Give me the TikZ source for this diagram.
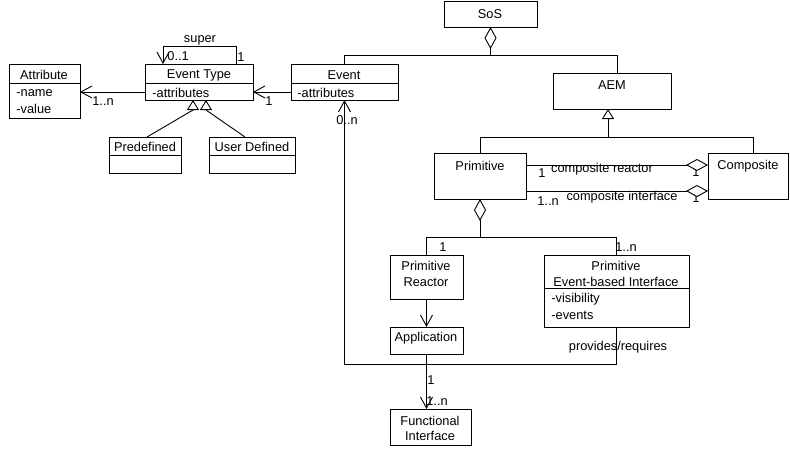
\documentclass[tikz,border=0pt]{standalone}
\usepackage{fontspec}
\setmainfont{Liberation Sans}
\usetikzlibrary{arrows.meta,calc}

% class box: name, left, top, right, bottom (pixel-like units, y downwards)
\newcommand\classbox[5]{\node[box, minimum width={#4-#2}, minimum height={#5-#3}] (#1) at (#2,#3) {};}

\begin{document}
\begin{tikzpicture}[x=1pt, y=-1pt, line width=0.9pt,
  box/.style={draw, line width=0.9pt, inner sep=0pt, outer sep=0pt, anchor=north west},
  lbl/.style={font=\fontsize{12.8}{15}\selectfont, inner sep=0pt},
  openarrow/.style={-{Straight Barb[length=11pt,width=12pt,line width=0.9pt]}},
  gen/.style={-{Triangle[open,length=10pt,width=12pt,fill=white,line width=0.9pt]}},
  agg/.style={{Diamond[open,length=22pt,width=12pt,fill=white,line width=0.9pt]}-}]
\useasboundingbox (0,0) rectangle (790,448);

% boxes
\classbox{sos}{444}{1}{537}{27}
\classbox{ev}{291}{64}{398}{100}
\classbox{et}{145}{64}{253}{100}
\classbox{attr}{9}{64}{80}{118}
\classbox{pd}{109}{137}{181}{173}
\classbox{ud}{209}{137}{295}{173}
\classbox{aem}{553}{73}{671}{109}
\classbox{prim}{434}{153}{526}{199}
\classbox{comp}{708}{153}{788}{199}
\classbox{pr}{390}{255}{463}{299}
\classbox{app}{390}{327}{463}{354}
\classbox{pei}{544}{255}{689}{327}
\classbox{fi}{390}{409}{471}{445}

% compartment dividers
\draw (ev.west |- 0,83) -- (ev.east |- 0,83);
\draw (et.west |- 0,83) -- (et.east |- 0,83);
\draw (attr.west |- 0,83) -- (attr.east |- 0,83);
\draw (pd.west |- 0,155) -- (pd.east |- 0,155);
\draw (ud.west |- 0,155) -- (ud.east |- 0,155);
\draw (pei.west |- 0,288) -- (pei.east |- 0,288);

% box texts
\node[lbl] (tsos) at (490,14) {SoS};
\node[lbl] (tev) at (344,75) {Event};
\node[lbl,anchor=west] (tevattr) at (297,93) {-attributes};
\node[lbl] (tet) at (199,75) {Event Type};
\node[lbl,anchor=west] (tetattr) at (152,93) {-attributes};
\node[lbl] (tattr) at (44,75) {Attribute};
\node[lbl,anchor=west] (tname) at (16,93) {-name};
\node[lbl,anchor=west] (tvalue) at (16,109) {-value};
\node[lbl] (tpd) at (145,147) {Predefined};
\node[lbl] (tud) at (252,147) {User Defined};
\node[lbl] (taem) at (612,85) {AEM};
\node[lbl] (tprim) at (480,166) {Primitive};
\node[lbl] (tcomp) at (748,166) {Composite};
\node[lbl] (tpr1) at (426,266) {Primitive};
\node[lbl] (tpr2) at (426,282) {Reactor};
\node[lbl] (tapp) at (426,338) {Application};
\node[lbl] (tpei1) at (616,266) {Primitive};
\node[lbl] (tpei2) at (616,282) {Event-based Interface};
\node[lbl,anchor=west] (tvis) at (551,299) {-visibility};
\node[lbl,anchor=west] (tevs) at (551,315) {-events};
\node[lbl] (tfi1) at (430,421) {Functional};
\node[lbl] (tfi2) at (430,436) {Interface};

% connector labels
\node[lbl] (lsuper) at (200,40) {super};
\node[lbl,anchor=west] (l01) at (167,56) {0..1};
\node[lbl] (lsup1) at (241,57) {1};
\node[lbl] (lattr) at (103,101) {1..n};
\node[lbl] (let1) at (269,101) {1};
\node[lbl] (l0n) at (347,120) {0..n};
\node[lbl] (lcr1) at (542,173) {1};
\node[lbl] (lcr) at (602,169) {composite reactor};
\node[lbl] (lcr2) at (696,172) {1};
\node[lbl] (lci1) at (548,201) {1..n};
\node[lbl] (lci) at (622,197) {composite interface};
\node[lbl] (lci2) at (696,198) {1};
\node[lbl] (lpr1) at (443,247) {1};
\node[lbl] (lpei1) at (626,247) {1..n};
\node[lbl] (lpro) at (618,347) {provides/requires};
\node[lbl] (lapp1) at (431,380) {1};
\node[lbl] (lfi1) at (437,401) {1..n};

% SoS composition
\draw[agg] (sos.south) -- (sos.south |- 0,55) -| (ev.north);
\draw (sos.south |- 0,55) -| ([xshift=5]aem.north);

% Event Type self association
\draw[openarrow] ([xshift=37]et.north) -- ++(0,-18) -| ([xshift=-36]et.north);

% associations to Attribute and Event Type
\draw[openarrow] (et.west |- 0,92) -- (attr.east |- 0,92);
\draw[openarrow] (ev.west |- 0,92) -- (et.east |- 0,92);

% Event Type specialisations
\draw[gen] ([xshift=2]pd.north) -- ([xshift=-6]et.south |- 0,110) -- ([xshift=-6]et.south);
\draw[gen] ([xshift=-7]ud.north) -- ([xshift=7]et.south |- 0,110) -- ([xshift=7]et.south);

% AEM specialisations
\coordinate (gj) at (608,137);
\draw (prim.north) -- (prim.north |- gj) -| ([xshift=5]comp.north);
\draw[gen] (gj) -- ([xshift=-4]aem.south);

% Composite aggregations
\draw[agg] (comp.west |- 0,165) -- (prim.east |- 0,165);
\draw[agg] (comp.west |- 0,191) -- (prim.east |- 0,191);

% Primitive composition
\draw[agg] (prim.south) -- (prim.south |- 0,237) -| (pr.north);
\draw (prim.south |- 0,237) -| (pei.north);

% Reactor, Application and Functional Interface
\draw[openarrow] (pr.south) -- (app.north);
\draw[openarrow] (app.south) -- (app.south |- fi.north);

% provides/requires link back to Event
\draw[openarrow] (pei.south) -- (pei.south |- 0,364) -| (ev.south);
\end{tikzpicture}
\end{document}
